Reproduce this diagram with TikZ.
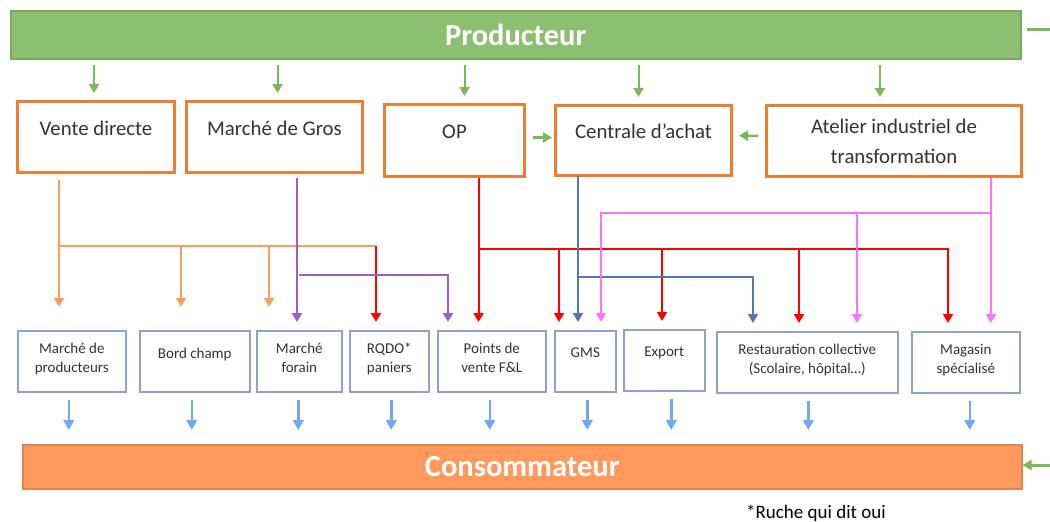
\documentclass[tikz,border=0pt]{standalone}
\usepackage{fontspec}
\setmainfont{Carlito}
\usetikzlibrary{arrows.meta}

\definecolor{vertbarre}{HTML}{8CBF6F}
\definecolor{vertbord}{HTML}{79A95E}
\definecolor{vertfleche}{HTML}{7DB85C}
\definecolor{orangebord}{HTML}{ED7D31}
\definecolor{orangeclair}{HTML}{FF9B5E}
\definecolor{consfond}{HTML}{FF995C}
\definecolor{consbord}{HTML}{D98650}
\definecolor{bleubord}{HTML}{8EA3C7}
\definecolor{bleuclair}{HTML}{73A7F5}
\definecolor{acier}{HTML}{5776AE}
\definecolor{violetF}{HTML}{9A5ECF}
\definecolor{roseF}{HTML}{FF73FA}
\definecolor{texte}{HTML}{333333}

\begin{document}
\begin{tikzpicture}[x=1pt, y=-1pt,
    barre/.style={line width=1.5pt, anchor=north west, text=white, font=\fontsize{30.5}{36}\selectfont\bfseries},
    canal/.style={draw=orangebord, line width=3pt, anchor=north west, minimum height=71pt, text=texte, font=\fontsize{20.8}{30}\selectfont, text height=14pt, text depth=18pt},
    point/.style={draw=bleubord, line width=1.6pt, anchor=north west, minimum height=61pt, text=texte, font=\fontsize{15}{19}\selectfont, align=center, text depth=7pt},
    seul/.style={text depth=17pt},
    fleche/.style={line width=2pt, -{Triangle[length=9pt,width=10pt]}, shorten >=8pt},
    bus/.style={line width=2pt},
    descente/.style={line width=2pt, vertfleche, -{Triangle[length=9pt,width=10pt]}, shorten <=5pt, shorten >=7pt},
    lateral/.style={line width=2.5pt, vertfleche, -{Triangle[length=9pt,width=10pt]}},
    sortie/.style={line width=2.5pt, bleuclair, -{Triangle[length=10pt,width=10.5pt]}, shorten <=7pt, shorten >=14pt}]
    \useasboundingbox (0,0) rectangle (1050,522);

    \node[barre, fill=vertbarre, draw=vertbord, minimum width=1010pt, minimum height=48pt] (prod) at (10,10) {Producteur};

    \node[canal, minimum width=157pt] (vd) at (16,100) {Vente directe};
    \node[canal, minimum width=176pt] (mg) at (185,100) {Marché de Gros};
    \node[canal, minimum width=140pt, minimum height=72pt] (op) at (383,103) {OP};
    \node[canal, minimum width=176pt, minimum height=70pt] (ca) at (554,104) {Centrale d’achat};
    \node[canal, minimum width=255pt, align=center, text height={}, text depth={}] (ati) at (765,104) {Atelier industriel de\\transformation};

    \node[point, minimum width=108pt] (mp) at (17,330) {Marché de\\producteurs};
    \node[point, seul, minimum width=110pt] (bc) at (139,330) {Bord champ};
    \node[point, minimum width=85pt] (mf) at (256,330) {Marché\\forain};
    \node[point, minimum width=79pt] (rq) at (349,330) {RQDO*\\paniers};
    \node[point, minimum width=108pt] (pv) at (437,330) {Points de\\vente F\&L};
    \node[point, seul, minimum width=61pt] (gms) at (554,330) {GMS};
    \node[point, seul, minimum width=81pt] (exp) at (623,329) {Export};
    \node[point, minimum width=181pt] (rc) at (716,331) {Restauration collective\\(Scolaire, hôpital…)};
    \node[point, minimum width=108pt] (ms) at (911,331) {Magasin\\spécialisé};

    \node[barre, fill=consfond, draw=consbord, minimum width=999pt, minimum height=44pt] (cons) at (22,444) {Consommateur};

    \node[anchor=base west, inner sep=0pt, font=\fontsize{19}{22}\selectfont] (note) at (746,518) {*Ruche qui dit oui};

    \foreach \b/\dx in {vd/-2, mg/3, op/10, ca/-5, ati/-14} {
        \coordinate (haut\b) at ([xshift=\dx pt]\b.north);
        \draw[descente] (haut\b |- prod.south) -- (haut\b);
    }
    \draw[lateral, shorten <=7pt, shorten >=2pt] ([yshift=3pt]op.east) -- ([yshift=3pt]ca.west);
    \draw[lateral, shorten <=7pt, shorten >=6pt] ([yshift=5pt]ati.west) -- ([yshift=5pt]ca.east);

    \coordinate (vdOut) at (59,180);
    \coordinate (vdB1) at (181,246);
    \coordinate (vdB2) at (269,246);
    \coordinate (vdB3) at (376,246);
    \draw[bus, orangeclair] (vdOut |- vdB1) -- (vdB3);
    \draw[fleche, orangeclair, shorten >=23pt] (vdOut) -- (vdOut |- mp.north);
    \draw[fleche, orangeclair, shorten >=23pt] (vdB1) -- (vdB1 |- bc.north);
    \draw[fleche, orangeclair, shorten >=23pt] (vdB2) -- (vdB2 |- mf.north);
    \draw[fleche, red] (vdB3) -- (vdB3 |- rq.north);

    \coordinate (mgOut) at (297,178);
    \coordinate (mgB1) at (299,275);
    \coordinate (mgB2) at (448,275);
    \draw[fleche, violetF] (mgOut) -- (mgOut |- mf.north);
    \draw[fleche, violetF] (mgB1) -- (mgB2) -- (mgB2 |- pv.north);

    \coordinate (opOut) at ([xshift=24pt]op.south);
    \coordinate (opB1) at (559,249);
    \coordinate (opB2) at (662,249);
    \coordinate (opB3) at (799,249);
    \coordinate (opB4) at (948,249);
    \draw[fleche, red] (opOut) -- (opOut |- pv.north);
    \draw[fleche, red] (opOut |- opB1) -- (opB4) -- (opB4 |- ms.north);
    \foreach \c/\b in {opB1/gms, opB2/exp, opB3/rc}
        \draw[fleche, red] (\c) -- (\c |- \b.north);

    \coordinate (caOut) at (578,176);
    \coordinate (caB1) at (753,277);
    \draw[fleche, acier] (caOut) -- (caOut |- gms.north);
    \draw[fleche, acier] (caOut |- caB1) -- (caB1) -- (caB1 |- rc.north);

    \coordinate (atOut) at (991,178);
    \coordinate (atB1) at (601,213);
    \coordinate (atB2) at (857,213);
    \draw[fleche, roseF] (atOut) -- (atOut |- ms.north);
    \draw[fleche, roseF] (atOut |- atB1) -- (atB1) -- (atB1 |- gms.north);
    \draw[fleche, roseF] (atB2) -- (atB2 |- rc.north);

    \foreach \b/\dx in {mp/-3, bc/-3, mf/-1, rq/2, pv/-2, gms/2, exp/7, rc/1, ms/4} {
        \coordinate (bas\b) at ([xshift=\dx pt]\b.south);
        \draw[sortie] (bas\b) -- (bas\b |- cons.north);
    }

    \coordinate (retourH) at (1050,29);
    \coordinate (retourB) at (1050,465);
    \draw[line width=3pt, vertfleche, shorten <=5pt] (retourH -| prod.east) -- (retourH);
    \draw[lateral, line width=3pt] (retourB) -- (retourB -| cons.east);
\end{tikzpicture}
\end{document}
